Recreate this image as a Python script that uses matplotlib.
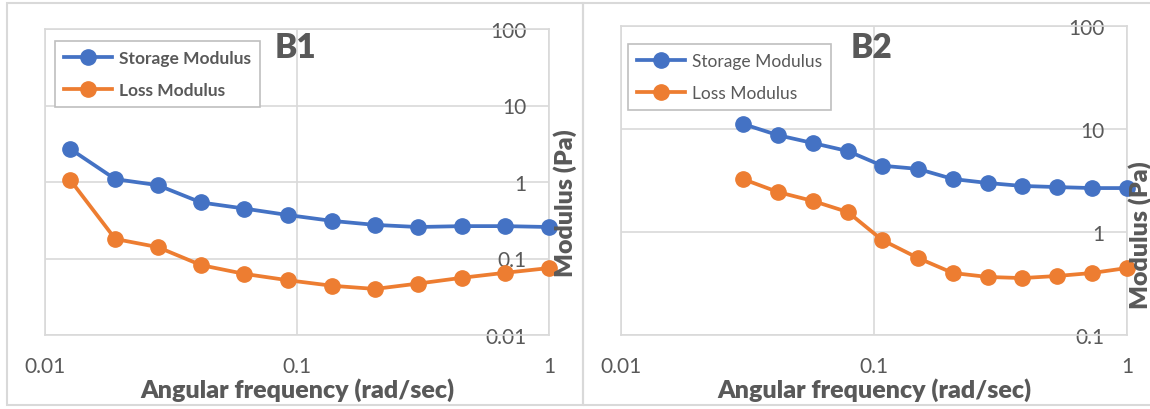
import matplotlib.pyplot as plt
from matplotlib.patches import Rectangle

# values
freq_b1 = [0.0126, 0.019, 0.028, 0.0416, 0.0617, 0.092, 0.138, 0.204, 0.302, 0.452, 0.668, 1.0]
storage_b1 = [2.7, 1.09, 0.91, 0.54, 0.45, 0.37, 0.31, 0.275, 0.258, 0.265, 0.265, 0.258]
loss_b1 = [1.06, 0.18, 0.141, 0.082, 0.063, 0.052, 0.044, 0.040, 0.047, 0.056, 0.065, 0.075]

freq_b2 = [0.0303, 0.0418, 0.0574, 0.0789, 0.1077, 0.149, 0.205, 0.282, 0.385, 0.529, 0.728, 1.0]
storage_b2 = [11.2, 8.7, 7.3, 6.1, 4.4, 4.1, 3.27, 2.99, 2.80, 2.73, 2.67, 2.67]
loss_b2 = [3.27, 2.44, 2.0, 1.56, 0.836, 0.56, 0.40, 0.366, 0.357, 0.374, 0.40, 0.447]

xticks = [0.01, 0.1, 1]
xtick_labels = ["0.01", "0.1", "1"]
yticks_b1 = [0.01, 0.1, 1, 10, 100]
ytick_labels_b1 = ["0.01", "0.1", "1", "10", "100"]
yticks_b2 = [0.1, 1, 10, 100]
ytick_labels_b2 = ["0.1", "1", "10", "100"]

BLUE = "#4472C4"
ORANGE = "#ED7D31"
GRID = "#D9D9D9"
TEXT = "#595959"

plt.rcParams["font.family"] = ["Lato", "DejaVu Sans"]

W, H = 1150, 410
fig = plt.figure(figsize=(W / 100, H / 100), dpi=100)


def px_rect(left, top, right, bottom):
    return [left / W, 1 - bottom / H, (right - left) / W, (bottom - top) / H]


def draw_panel(rect, freq, storage, loss, yticks, ylabels, bold_legend,
               legend_xy, tag, tag_xy, ylabel_xy):
    ax = fig.add_axes(rect)
    ax.set_xscale("log")
    ax.set_yscale("log")
    ax.set_xlim(0.01, 1)
    ax.set_ylim(yticks[0], yticks[-1])

    ax.plot(freq, storage, color=BLUE, marker="o", ms=11, lw=2.7,
            label="Storage Modulus", clip_on=False, zorder=3)
    ax.plot(freq, loss, color=ORANGE, marker="o", ms=11, lw=2.7,
            label="Loss Modulus", clip_on=False, zorder=3)

    ax.set_xticks(xticks)
    ax.set_xticklabels(xtick_labels)
    ax.set_yticks(yticks)
    ax.set_yticklabels(ylabels)
    ax.minorticks_off()
    ax.yaxis.tick_right()
    ax.tick_params(axis="both", length=0, labelsize=15, colors=TEXT)
    ax.tick_params(axis="x", pad=15)
    ax.tick_params(axis="y", pad=-16)
    for t in ax.get_yticklabels():
        t.set_horizontalalignment("right")

    ax.grid(True, color=GRID, lw=1.2)
    ax.set_axisbelow(True)
    for s in ax.spines.values():
        s.set_color(GRID)
        s.set_linewidth(1.2)

    ax.set_xlabel("Angular frequency (rad/sec)", fontsize=18, fontweight="heavy",
                  color=TEXT, labelpad=1)

    leg = ax.legend(loc="upper left", bbox_to_anchor=(legend_xy[0] / W, 1 - legend_xy[1] / H),
                    bbox_transform=fig.transFigure, borderaxespad=0, fancybox=False,
                    framealpha=1, edgecolor="#BFBFBF", fontsize=12.5, handlelength=2.8,
                    borderpad=0.5, labelspacing=0.95, handletextpad=0.4)
    leg.get_frame().set_linewidth(1.2)
    for t in leg.get_texts():
        t.set_color(TEXT)
        if bold_legend:
            t.set_fontweight("bold")

    fig.text(tag_xy[0] / W, 1 - tag_xy[1] / H, tag, fontsize=24, fontweight="heavy",
             color=TEXT, ha="left", va="center")
    fig.text(ylabel_xy[0] / W, 1 - ylabel_xy[1] / H, "Modulus (Pa)", fontsize=18,
             fontweight="heavy", color=TEXT, rotation=90, ha="center", va="center")
    return ax


# panel frames
fig.add_artist(Rectangle((7 / W, 1 - 406 / H), (583 - 7) / W, (406 - 4) / H,
                         transform=fig.transFigure, fill=False, ec=GRID, lw=1.5))
fig.add_artist(Rectangle((583 / W, 1 - 406 / H), (1160 - 583) / W, (406 - 4) / H,
                         transform=fig.transFigure, fill=False, ec=GRID, lw=1.5))

draw_panel(px_rect(45, 30, 549, 336), freq_b1, storage_b1, loss_b1,
           yticks_b1, ytick_labels_b1, True, (55, 42), "B1", (275, 48), (565, 203))
draw_panel(px_rect(621, 27, 1127, 336), freq_b2, storage_b2, loss_b2,
           yticks_b2, ytick_labels_b2, False, (628, 45), "B2", (851, 48), (1140, 235))

fig.savefig("out.png", dpi=100)
